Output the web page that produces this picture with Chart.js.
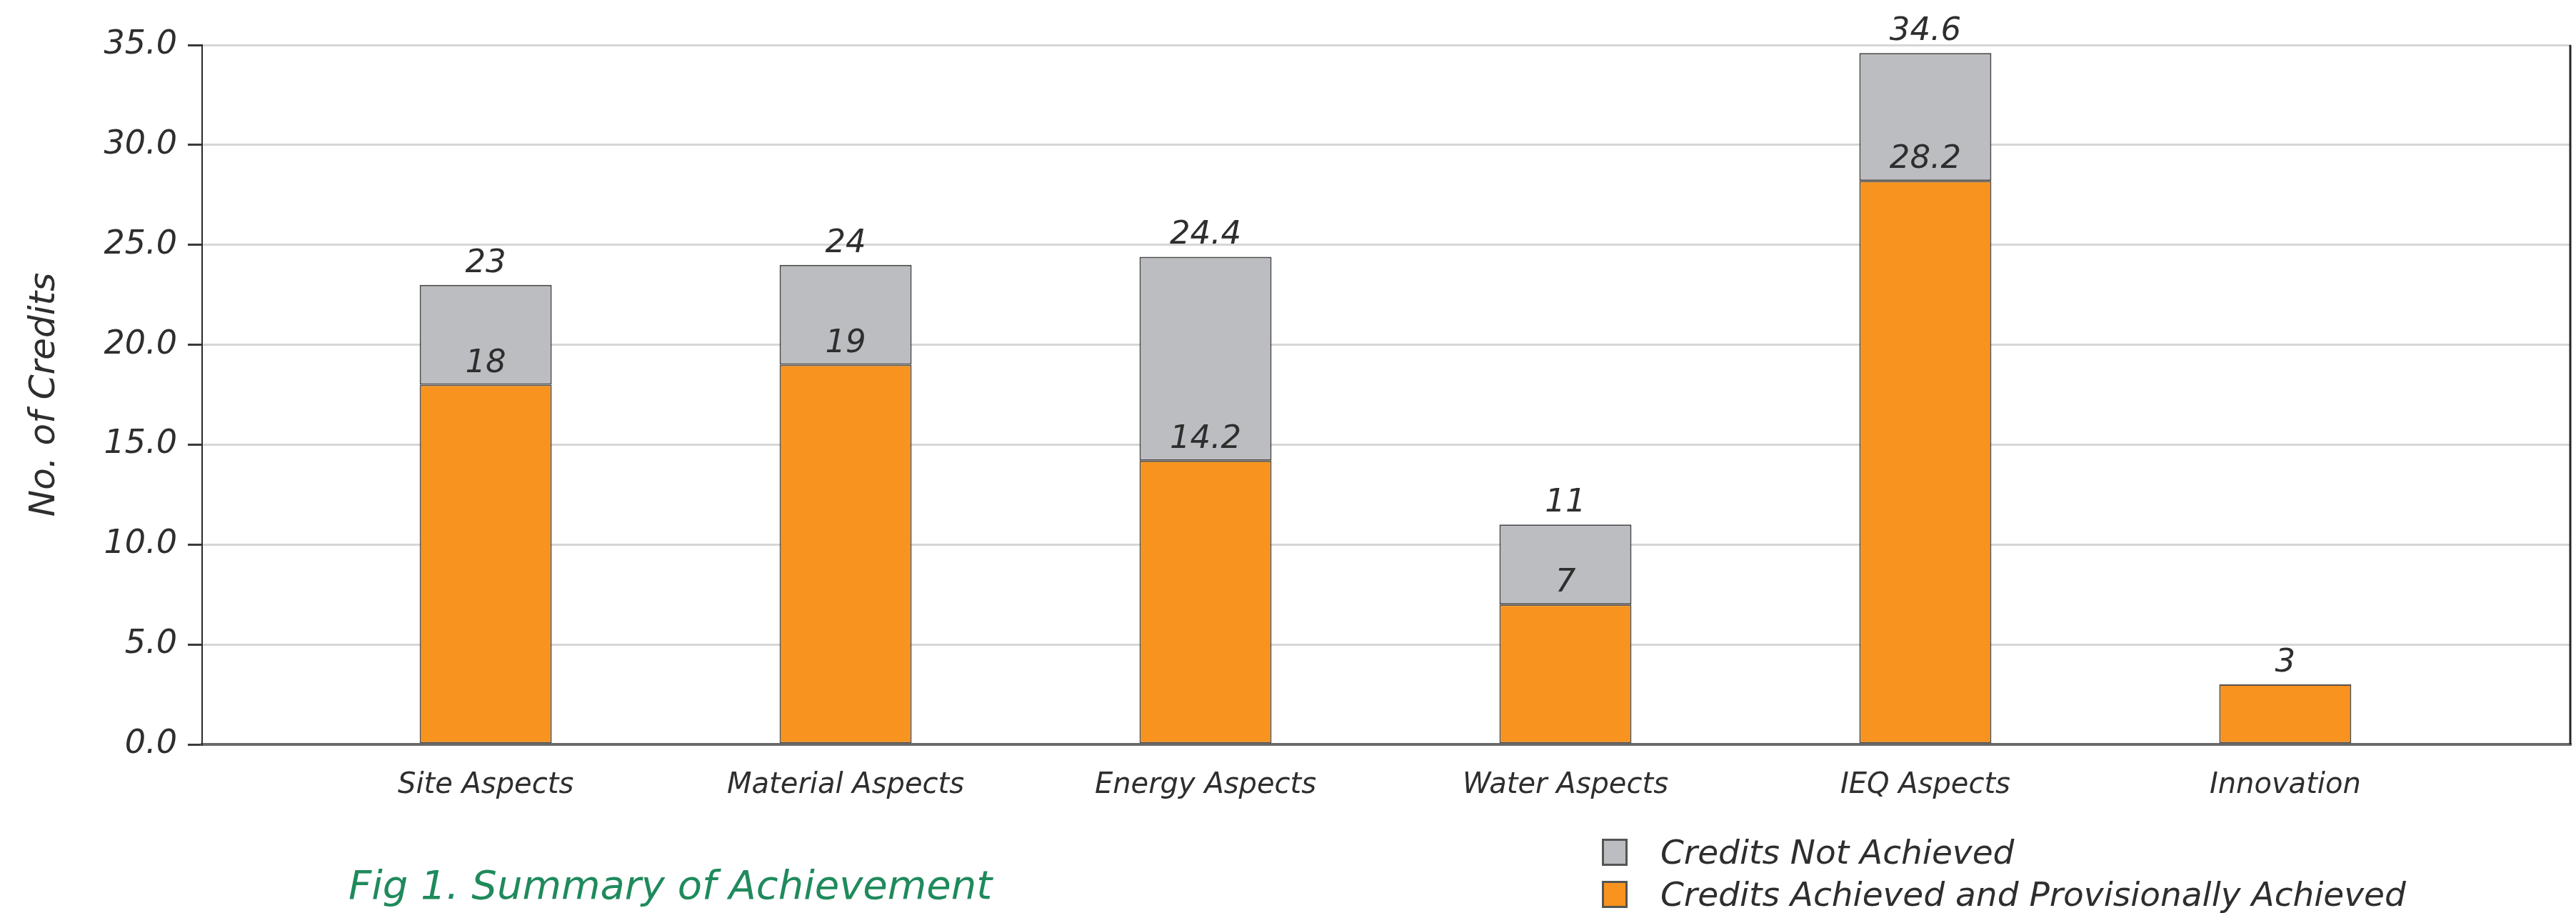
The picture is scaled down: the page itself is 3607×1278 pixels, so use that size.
<!DOCTYPE html>
<html>
<head>
<meta charset="utf-8">
<title>Summary of Achievement</title>
<script src="https://cdn.jsdelivr.net/npm/chart.js@4.4.1/dist/chart.umd.min.js"></script>
<style>
  html, body { margin: 0; padding: 0; background: #ffffff; }
  #wrap { width: 3607px; height: 1278px; }
</style>
</head>
<body>
<div id="wrap"><canvas id="creditsChart" width="3607" height="1278"></canvas></div>
<script>
const categories = ['Site Aspects', 'Material Aspects', 'Energy Aspects', 'Water Aspects', 'IEQ Aspects', 'Innovation'];
const achieved = [18, 19, 14.2, 7, 28.2, 3];
const available = [23, 24, 24.4, 11, 34.6, 3];
const yTicks = [0, 5, 10, 15, 20, 25, 30, 35];

const seriesNames = ['Credits Achieved and Provisionally Achieved', 'Credits Not Achieved'];
const seriesColors = ['#f7931e', '#bcbdc0'];
const caption = 'Fig 1. Summary of Achievement';

const FONT = '"DejaVu Sans", Verdana, sans-serif';
const TEXT = '#2e2e2e';

// grey part of each bar is whatever is left over up to the total
const notAchieved = available.map((t, i) => Math.round((t - achieved[i]) * 10) / 10);

function points(values) {
    return values.map((v, i) => ({ x: i + 1, y: v }));
}

// numbers above each segment: achieved on the orange, totals on the grey
const valueLabels = {
    id: 'valueLabels',
    afterDatasetsDraw(chart) {
        const ctx = chart.ctx;
        ctx.save();
        ctx.font = 'italic 45px ' + FONT;
        ctx.fillStyle = TEXT;
        ctx.textAlign = 'center';
        ctx.textBaseline = 'alphabetic';
        chart.data.datasets.forEach((ds, di) => {
            chart.getDatasetMeta(di).data.forEach((bar, i) => {
                if (!ds.data[i].y) return;
                const text = di === 0 ? achieved[i] : available[i];
                ctx.fillText(String(text), bar.x, bar.y - 18);
            });
        });
        ctx.restore();
    }
};

// right edge of the plot frame, caption and the stacked legend underneath
const frameAndNotes = {
    id: 'frameAndNotes',
    afterDraw(chart) {
        const ctx = chart.ctx;
        const area = chart.chartArea;
        ctx.save();

        ctx.strokeStyle = '#262626';
        ctx.lineWidth = 3;
        ctx.beginPath();
        ctx.moveTo(area.right - 1, area.top);
        ctx.lineTo(area.right - 1, area.bottom);
        ctx.stroke();

        ctx.font = 'italic 56px ' + FONT;
        ctx.fillStyle = '#1f8a5c';
        ctx.textAlign = 'left';
        ctx.textBaseline = 'alphabetic';
        ctx.fillText(caption, 488, 1258);

        const rows = [1, 0];
        rows.forEach((di, r) => {
            const ds = chart.data.datasets[di];
            const top = 1174 + r * 59;
            ctx.fillStyle = ds.backgroundColor;
            ctx.fillRect(2243, top, 36, 38);
            ctx.strokeStyle = '#555555';
            ctx.lineWidth = 3;
            ctx.strokeRect(2244.5, top + 1.5, 33, 35);
            ctx.font = 'italic 47px ' + FONT;
            ctx.fillStyle = TEXT;
            ctx.fillText(ds.label, 2325, top + 35);
        });

        ctx.restore();
    }
};

const ctx = document.getElementById('creditsChart').getContext('2d');

new Chart(ctx, {
    type: 'bar',
    data: {
        datasets: [
            {
                label: seriesNames[0],
                data: points(achieved),
                backgroundColor: seriesColors[0],
                borderColor: '#5a5148',
                borderWidth: 2,
                borderSkipped: false
            },
            {
                label: seriesNames[1],
                data: points(notAchieved),
                backgroundColor: seriesColors[1],
                borderColor: '#4a4a4a',
                borderWidth: 2,
                borderSkipped: false
            }
        ]
    },
    options: {
        responsive: false,
        animation: false,
        devicePixelRatio: 1,
        layout: {
            padding: { top: 63, right: 7, left: 0, bottom: 0 }
        },
        datasets: {
            bar: {
                categoryPercentage: 1,
                barPercentage: 0.367
            }
        },
        scales: {
            x: {
                type: 'linear',
                stacked: true,
                offset: false,
                min: 0.212,
                max: 6.794,
                afterFit: scale => { scale.height = 236; },
                grid: { display: false, drawTicks: false },
                border: { display: true, color: '#6a6a6a', width: 4 },
                ticks: {
                    stepSize: 1,
                    includeBounds: false,
                    autoSkip: false,
                    maxRotation: 0,
                    padding: 34,
                    color: TEXT,
                    font: { family: FONT, size: 40, style: 'italic' },
                    callback: value => categories[value - 1] || ''
                }
            },
            y: {
                stacked: true,
                min: 0,
                max: 35,
                afterFit: scale => { scale.width = 283; },
                afterBuildTicks: axis => { axis.ticks = yTicks.map(v => ({ value: v })); },
                grid: {
                    color: c => (c.tick && c.tick.value === 0) ? 'rgba(0,0,0,0)' : '#d6d6d6',
                    lineWidth: 3,
                    tickColor: '#3a3a3a',
                    tickLength: 20
                },
                border: { display: true, color: '#2a2a2a', width: 2 },
                ticks: {
                    padding: 15,
                    color: TEXT,
                    font: { family: FONT, size: 46, style: 'italic' },
                    callback: value => value.toFixed(1)
                },
                title: {
                    display: true,
                    text: 'No. of Credits',
                    color: TEXT,
                    padding: { top: 33, bottom: 0 },
                    font: { family: FONT, size: 50, style: 'italic' }
                }
            }
        },
        plugins: {
            legend: { display: false },
            tooltip: { enabled: false }
        }
    },
    plugins: [valueLabels, frameAndNotes]
});
</script>
</body>
</html>
